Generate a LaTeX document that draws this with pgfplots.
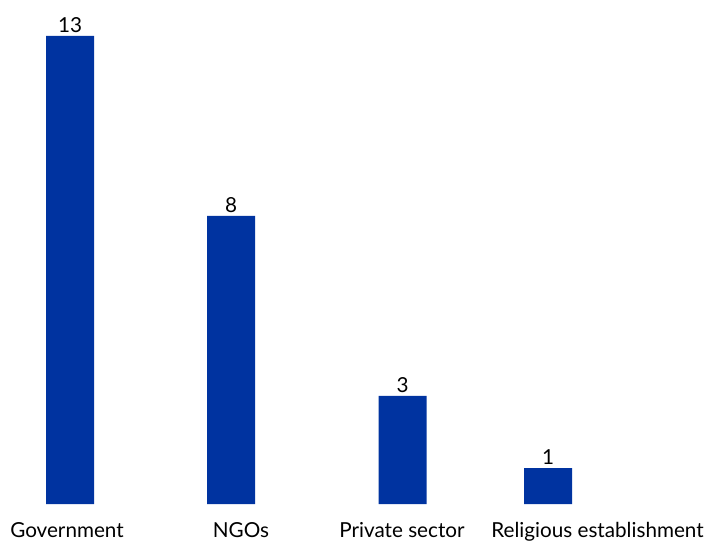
\documentclass[border=0pt]{standalone}
\usepackage{pgfplots}
\pgfplotsset{compat=1.18}
\usepackage{fontspec}
\setmainfont{Lato}
\definecolor{barblue}{RGB}{0,51,160}
\begin{document}
\begin{tikzpicture}[x=0.75pt,y=0.75pt]
\begin{axis}[
  scale only axis,
  width=528.75pt, height=406.5pt,
  xmin=0, xmax=705,
  ymin=-1.0556, ymax=14,
  axis line style={draw=none},
  xtick=\empty, ytick=\empty,
  clip=false,
  ybar, bar width=48,
  bar shift=0pt,
  /pgf/number format/assume math mode=true,
  nodes near coords,
  every node near coord/.append style={font=\fontsize{15.5}{18}\selectfont, text=black, inner sep=2.5pt},
]
\addplot[fill=barblue, draw=none] coordinates {
  (70,13) (231,8) (402.5,3) (548,1)
};
\node[anchor=base, inner sep=0pt, font=\fontsize{15.5}{18}\selectfont] at (axis cs:67,-0.92) {Government};
\node[anchor=base, inner sep=0pt, font=\fontsize{15.5}{18}\selectfont] at (axis cs:241,-0.92) {NGOs};
\node[anchor=base, inner sep=0pt, font=\fontsize{15.5}{18}\selectfont] at (axis cs:402,-0.92) {Private sector};
\node[anchor=base east, inner sep=0pt, font=\fontsize{15.5}{18}\selectfont] at (axis cs:704,-0.92) {Religious establishment};
\end{axis}
\end{tikzpicture}
\end{document}
